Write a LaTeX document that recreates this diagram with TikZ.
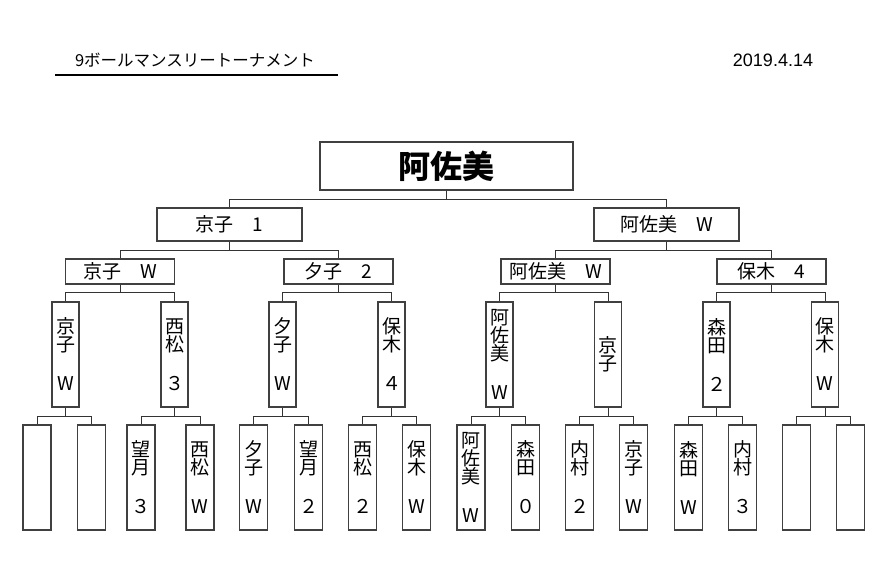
\documentclass[tikz,border=0pt]{standalone}
\usepackage{fontspec}
\setmainfont{Noto Sans CJK JP}
\newfontfamily\datefont{Liberation Sans}
\tikzset{%
    every node/.style={inner sep=0pt, font=\fontsize{19}{18}\selectfont},
    hbox/.style={draw=black!75, line width=1.2pt, minimum width=109pt,
    	minimum height=25pt},
    vbox/.style={draw=black!75, line width=1.2pt, minimum width=27pt,
    	minimum height=105pt, align=center},
    link/.style={draw=black!80, line width=0.9pt}
}

\begin{document}
\begin{tikzpicture}[x=1pt, y=-1pt]
  \useasboundingbox (0,0) rectangle (894,584);
  \node (title) [font=\fontsize{16.5}{16.5}\selectfont] at (195,60) {9ボールマンスリートーナメント};
  \node (date) [font=\datefont\fontsize{18}{18}\selectfont] at (773,60) {2019.4.14};
  \coordinate (ul0) at (55,75);
  \coordinate (ul1) at (338,75);
  \draw [line width=1.3pt] (ul0) -- (ul1);

  \node (w) [hbox, minimum width=253pt, minimum height=48pt,
    font=\fontsize{32}{32}\selectfont\bfseries] at (446.5,166) {阿佐美};

  \node (s1) [hbox, minimum width=145pt, minimum height=33pt] at (229.5,224.5) {京子　1};
  \node (s2) [hbox, minimum width=145pt, minimum height=33pt] at (666.5,224.5) {阿佐美　W};

  \node (q1) [hbox] at (120,271.5) {京子　W};
  \node (q2) [hbox] at (338.5,271.5) {夕子　2};
  \node (q3) [hbox] at (555.5,271.5) {阿佐美　W};
  \node (q4) [hbox] at (771.5,271.5) {保木　4};

  \node (r1) [vbox] at (65.5,354.5) {京\\子\\[21pt]W};
  \node (r2) [vbox] at (174.5,354.5) {西\\松\\[21pt]３};
  \node (r3) [vbox] at (282.5,354.5) {夕\\子\\[21pt]W};
  \node (r4) [vbox] at (391.5,354.5) {保\\木\\[21pt]４};
  \node (r5) [vbox] at (499.5,354.5) {阿\\佐\\美\\[21pt]W};
  \node (r6) [vbox] at (608,354.5) {京\\子};
  \node (r7) [vbox] at (716.5,354.5) {森\\田\\[21pt]２};
  \node (r8) [vbox] at (825,354.5) {保\\木\\[21pt]W};

  \node (e1) [vbox, minimum width=28pt] at (37,477.5) {};
  \node (e2) [vbox, minimum width=28pt] at (91.5,477.5) {};
  \node (e3) [vbox, minimum width=28pt] at (141,477.5) {望\\月\\[21pt]３};
  \node (e4) [vbox, minimum width=28pt] at (200,477.5) {西\\松\\[21pt]W};
  \node (e5) [vbox, minimum width=28pt] at (253.5,477.5) {夕\\子\\[21pt]W};
  \node (e6) [vbox, minimum width=28pt] at (308.5,477.5) {望\\月\\[21pt]２};
  \node (e7) [vbox, minimum width=28pt] at (362.5,477.5) {西\\松\\[21pt]２};
  \node (e8) [vbox, minimum width=28pt] at (416.5,477.5) {保\\木\\[21pt]W};
  \node (e9) [vbox, minimum width=28pt] at (471,477.5) {阿\\佐\\美\\[21pt]W};
  \node (e10) [vbox, minimum width=28pt] at (525.5,477.5) {森\\田\\[21pt]０};
  \node (e11) [vbox, minimum width=28pt] at (579.5,477.5) {内\\村\\[21pt]２};
  \node (e12) [vbox, minimum width=28pt] at (633.5,477.5) {京\\子\\[21pt]W};
  \node (e13) [vbox, minimum width=28pt] at (688.5,477.5) {森\\田\\[21pt]W};
  \node (e14) [vbox, minimum width=28pt] at (742.5,477.5) {内\\村\\[21pt]３};
  \node (e15) [vbox, minimum width=28pt] at (796.5,477.5) {};
  \node (e16) [vbox, minimum width=28pt] at (850.5,477.5) {};

  \draw [link] (w.south) -- ++(0,9) -| (s1.north);
  \draw [link] (w.south) -- ++(0,9) -| (s2.north);
  \draw [link] (s1.south) -- ++(0,9) -| (q1.north);
  \draw [link] (s1.south) -- ++(0,9) -| (q2.north);
  \draw [link] (s2.south) -- ++(0,9) -| (q3.north);
  \draw [link] (s2.south) -- ++(0,9) -| (q4.north);
  \draw [link] (q1.south) -- ++(0,8) -| (r1.north);
  \draw [link] (q1.south) -- ++(0,8) -| (r2.north);
  \draw [link] (q2.south) -- ++(0,8) -| (r3.north);
  \draw [link] (q2.south) -- ++(0,8) -| (r4.north);
  \draw [link] (q3.south) -- ++(0,8) -| (r5.north);
  \draw [link] (q3.south) -- ++(0,8) -| (r6.north);
  \draw [link] (q4.south) -- ++(0,8) -| (r7.north);
  \draw [link] (q4.south) -- ++(0,8) -| (r8.north);
  \draw [link] (r1.south) -- ++(0,9) -| (e1.north);
  \draw [link] (r1.south) -- ++(0,9) -| (e2.north);
  \draw [link] (r2.south) -- ++(0,9) -| (e3.north);
  \draw [link] (r2.south) -- ++(0,9) -| (e4.north);
  \draw [link] (r3.south) -- ++(0,9) -| (e5.north);
  \draw [link] (r3.south) -- ++(0,9) -| (e6.north);
  \draw [link] (r4.south) -- ++(0,9) -| (e7.north);
  \draw [link] (r4.south) -- ++(0,9) -| (e8.north);
  \draw [link] (r5.south) -- ++(0,9) -| (e9.north);
  \draw [link] (r5.south) -- ++(0,9) -| (e10.north);
  \draw [link] (r6.south) -- ++(0,9) -| (e11.north);
  \draw [link] (r6.south) -- ++(0,9) -| (e12.north);
  \draw [link] (r7.south) -- ++(0,9) -| (e13.north);
  \draw [link] (r7.south) -- ++(0,9) -| (e14.north);
  \draw [link] (r8.south) -- ++(0,9) -| (e15.north);
  \draw [link] (r8.south) -- ++(0,9) -| (e16.north);
\end{tikzpicture}
\end{document}
